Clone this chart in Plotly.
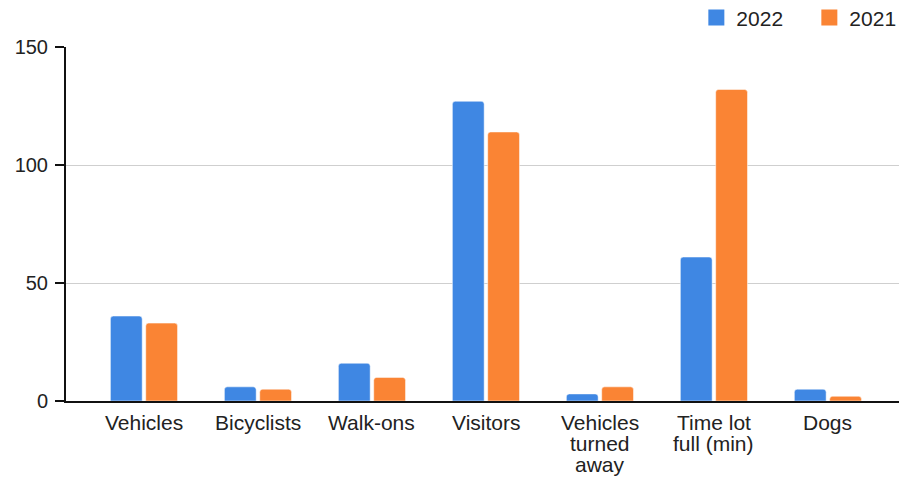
import plotly.graph_objects as go

categories = ["Vehicles", "Bicyclists", "Walk-ons", "Visitors",
              "Vehicles<br>turned<br>away", "Time lot<br>full (min)", "Dogs"]
values_2022 = [36, 6, 16, 127, 3, 61, 5]
values_2021 = [33, 5, 10, 114, 6, 132, 2]
y_ticks = [0, 50, 100, 150]

blue = "#3F87E3"
orange = "#FA8434"
FONT = "Liberation Sans, Arial"

fig = go.Figure()
for name, vals, col in [("2022", values_2022, blue), ("2021", values_2021, orange)]:
    fig.add_trace(go.Bar(x=categories, y=vals, name=name, marker_color=col,
                         marker_cornerradius=3, showlegend=False))
    # dummy trace just for a bigger square legend swatch
    fig.add_trace(go.Scatter(x=[None], y=[None], mode="markers", name=name,
                             marker=dict(symbol="square", size=20, color=col)))

# category labels as annotations so the line spacing can be tighter than plotly's default
for cat in categories:
    for i, line in enumerate(cat.split("<br>")):
        fig.add_annotation(x=cat, y=0, xref="x", yref="paper", text=line,
                           showarrow=False, yanchor="top", yshift=-8 - i * 21,
                           font=dict(family=FONT, size=21, color="#222"))

# page body has an 8px margin, so the figure is a bit smaller than the window
fig.update_layout(
    width=899, height=473,
    template="plotly_white",
    font=dict(family=FONT, size=20, color="#222"),
    margin=dict(l=58, r=5, t=39, b=80, autoexpand=False),
    paper_bgcolor="white", plot_bgcolor="white",
    barmode="group", bargap=0.38, bargroupgap=0.1,
    legend=dict(orientation="h", x=0.754, xanchor="left", y=1.082, yanchor="middle",
                font=dict(size=21), itemsizing="trace", traceorder="normal",
                entrywidth=68, entrywidthmode="pixels"),
)
fig.update_xaxes(range=[-0.684, 6.65], showgrid=False, showline=True, linecolor="#111",
                 linewidth=2, ticks="", showticklabels=False)
fig.update_yaxes(range=[0, 150], tickvals=y_ticks, showgrid=True, gridcolor="#cfcfcf",
                 gridwidth=1, showline=True, linecolor="#111", linewidth=2,
                 ticks="outside", ticklen=9, tickwidth=2, tickcolor="#111",
                 ticklabelstandoff=3, zeroline=False, tickfont=dict(size=20))

fig.write_html("out.html")
